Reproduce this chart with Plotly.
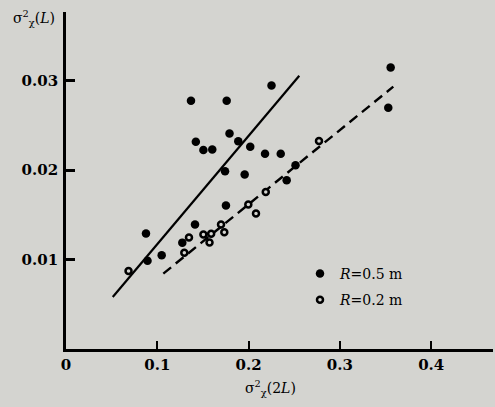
import plotly.graph_objects as go

# R = 0.5 m (solid dots)
r05_x = [0.1369, 0.1760, 0.2251, 0.1791, 0.1422, 0.1505, 0.1602, 0.1887, 0.2018, 0.2180,
         0.2352, 0.1742, 0.1957, 0.2514, 0.2417, 0.1752, 0.1413, 0.0876, 0.1048, 0.0893,
         0.3556, 0.3530, 0.1274]
r05_y = [0.02776, 0.02778, 0.02948, 0.02412, 0.02319, 0.02226, 0.02232, 0.02325, 0.02262, 0.02185,
         0.02183, 0.01989, 0.01953, 0.02056, 0.01888, 0.01606, 0.01392, 0.01292, 0.01048, 0.00987,
         0.03150, 0.02698, 0.01190]

# R = 0.2 m (open circles)
r02_x = [0.2771, 0.2188, 0.1997, 0.2081, 0.1698, 0.1734, 0.1505, 0.1590, 0.1572, 0.1347, 0.1296, 0.0685]
r02_y = [0.02328, 0.01757, 0.01616, 0.01515, 0.01392, 0.01306, 0.01280, 0.01289, 0.01191, 0.01247, 0.01078, 0.00872]

# fitted lines
fit05_x = [0.0512, 0.2555]
fit05_y = [0.00581, 0.03056]
fit02_x = [0.1066, 0.3585]
fit02_y = [0.00843, 0.02935]

x_ticks = [0, 0.1, 0.2, 0.3, 0.4]
x_ticklabels = ["0", "0.1", "0.2", "0.3", "0.4"]
y_ticks = [0.01, 0.02, 0.03]
y_ticklabels = ["0.01", "0.02", "0.03"]

BG = "#d4d4d0"
FONT = "DejaVu Serif"

fig = go.Figure()
fig.add_trace(go.Scatter(x=fit05_x, y=fit05_y, mode="lines",
                         line=dict(color="black", width=2.2), showlegend=False, hoverinfo="skip"))
fig.add_trace(go.Scatter(x=fit02_x, y=fit02_y, mode="lines",
                         line=dict(color="black", width=2.4, dash="10px,6px"), showlegend=False, hoverinfo="skip"))
fig.add_trace(go.Scatter(x=r05_x, y=r05_y, mode="markers", name="<i>R</i>=0.5 m", legendgroup="a",
                         marker=dict(color="black", size=8.5, line=dict(width=0))))
fig.add_trace(go.Scatter(x=r02_x, y=r02_y, mode="markers", name="<i>R</i>=0.2 m", legendgroup="b",
                         marker=dict(color=BG, size=6, line=dict(color="black", width=2.5))))

fig.update_layout(
    width=495, height=407,
    margin=dict(l=66, r=2, t=12, b=58.4),
    paper_bgcolor=BG, plot_bgcolor=BG,
    font=dict(family=FONT, color="black", size=14),
    legend=dict(x=0.548, y=0.27, xanchor="left", yanchor="top", bgcolor="rgba(0,0,0,0)",
                font=dict(family=FONT, size=14, color="black"), tracegroupgap=5,
                itemclick=False),
    xaxis=dict(range=[0, 0.4677], showgrid=False, zeroline=False, showline=True, linecolor="black",
               linewidth=2.5, ticks="inside", ticklen=8, tickwidth=2, tickcolor="black",
               tickvals=x_ticks, ticktext=["<b>%s</b>" % t for t in x_ticklabels],
               tickfont=dict(family=FONT, size=15, color="black")),
    yaxis=dict(range=[0, 0.0377], showgrid=False, zeroline=False, showline=True, linecolor="black",
               linewidth=2.8, ticks="inside", ticklen=9, tickwidth=2.5, tickcolor="black",
               tickvals=y_ticks, ticktext=["<b>%s</b>" % t for t in y_ticklabels], ticklabelstandoff=2,
               tickfont=dict(family=FONT, size=15, color="black")),
    annotations=[
        dict(text="σ<sup>2</sup><sub>χ</sub>(<i>L</i>)", xref="paper", yref="paper", x=-0.129, y=0.982,
             xanchor="left", yanchor="middle", showarrow=False, font=dict(family=FONT, size=14)),
        dict(text="σ<sup>2</sup><sub>χ</sub>(2<i>L</i>)", xref="paper", yref="paper", x=0.478, y=-0.117,
             xanchor="center", yanchor="middle", showarrow=False, font=dict(family=FONT, size=14)),
    ],
)

fig.write_html(
    "out.html",
    config={"displayModeBar": False},
    post_script="document.body.style.margin='0';document.body.style.background='%s';" % BG,
)
